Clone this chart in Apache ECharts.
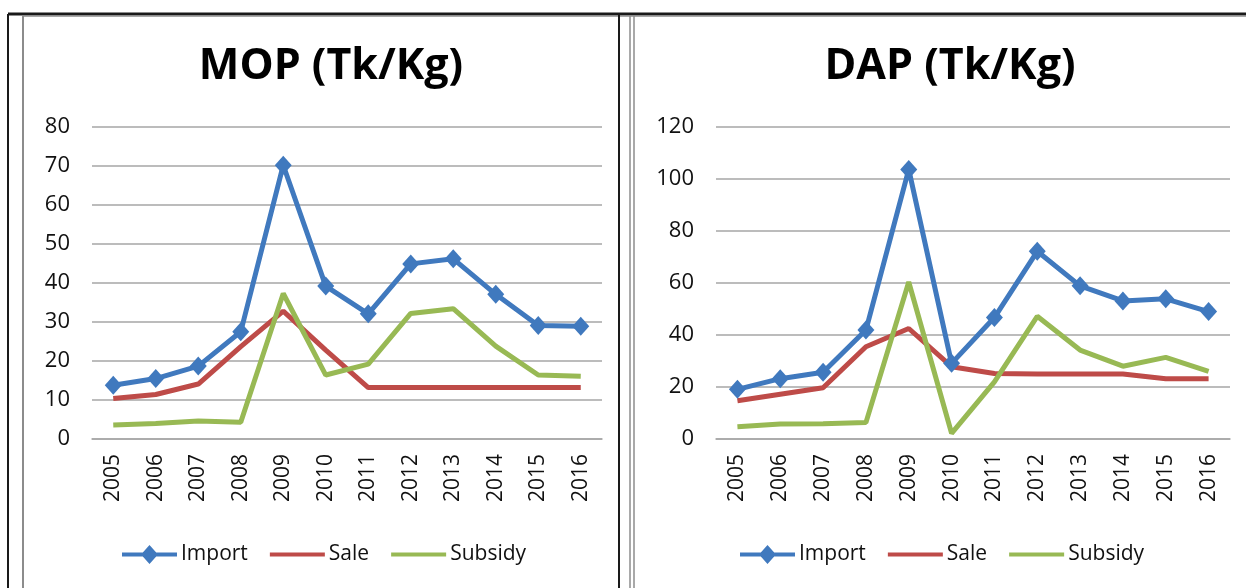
<!DOCTYPE html>
<html>
<head>
<meta charset="utf-8">
<script src="https://cdn.jsdelivr.net/npm/echarts@6/dist/echarts.min.js"></script>
<style>
  html, body { margin: 0; padding: 0; background: #fff; }
  #chart { width: 1246px; height: 588px; }
</style>
</head>
<body>
<div id="chart"></div>
<script>
// years on the category axis
const years = ["2005", "2006", "2007", "2008", "2009", "2010", "2011", "2012", "2013", "2014", "2015", "2016"];

// MOP (Tk/Kg)
const mopImport = [13.8, 15.5, 18.7, 27.5, 70.2, 39.2, 32.1, 44.9, 46.2, 37.1, 29.1, 28.9];
const mopSale = [10.4, 11.4, 14.1, 23.7, 32.8, 22.8, 13.2, 13.2, 13.2, 13.2, 13.2, 13.2];
const mopSubsidy = [3.6, 4.0, 4.6, 4.3, 37.3, 16.4, 19.2, 32.2, 33.4, 23.8, 16.4, 16.1];

// DAP (Tk/Kg)
const dapImport = [19.1, 23.2, 25.7, 41.9, 103.7, 29.1, 46.7, 72.2, 58.9, 53.1, 53.9, 49.0];
const dapSale = [14.7, 17.2, 19.7, 35.5, 42.5, 27.8, 25.2, 25.0, 25.0, 25.0, 23.2, 23.2];
const dapSubsidy = [4.7, 5.8, 5.9, 6.3, 60.4, 2.2, 22.0, 47.2, 34.2, 28.0, 31.4, 26.0];

const titles = ["MOP (Tk/Kg)", "DAP (Tk/Kg)"];

const BLUE = "#4079be";
const RED = "#be4b48";
const GREEN = "#98b954";
const FONT = "Open Sans";

// legend icons: a thick line, with a diamond for Import
// (the zero-length subpaths at the corners keep the bounding box 55x19)
const ICON_LINE = "path://M0,0L0,0M0,7.5H55V11.5H0ZM55,19L55,19";
const ICON_DIAMOND = "path://M0,0L0,0M0,7.5H55V11.5H0ZM27.5,0L36,9.5L27.5,19L19,9.5ZM55,19L55,19";

const chart = echarts.init(document.getElementById("chart"));

function xAxisFor(idx) {
  return {
    type: "category",
    gridIndex: idx,
    data: years,
    boundaryGap: true,
    axisLine: { show: true, lineStyle: { color: "#a6a6a6", width: 1.5 } },
    axisTick: { show: false },
    axisLabel: { rotate: 90, margin: 15, color: "#111", fontSize: 21, fontFamily: FONT }
  };
}

function yAxisFor(idx, max, interval) {
  return {
    type: "value",
    gridIndex: idx,
    min: 0,
    max: max,
    interval: interval,
    axisLine: { show: false },
    axisTick: { show: false },
    axisLabel: { margin: 22, color: "#111", fontSize: 22, fontFamily: FONT },
    splitLine: { lineStyle: { color: "#a6a6a6", width: 1.5 } }
  };
}

function lineSeries(name, data, idx, color, withMarker) {
  return {
    name: name,
    type: "line",
    xAxisIndex: idx,
    yAxisIndex: idx,
    data: data,
    symbol: withMarker ? "diamond" : "none",
    symbolSize: [17, 19],
    itemStyle: { color: color },
    lineStyle: { color: color, width: 5 },
    z: withMarker ? 4 : 3,
    animation: false
  };
}

function legendFor(left) {
  return {
    left: left,
    top: 539,
    itemWidth: 55,
    itemHeight: 19,
    itemGap: 22,
    data: [
      { name: "Import", icon: ICON_DIAMOND, itemStyle: { color: BLUE } },
      { name: "Sale", icon: ICON_LINE, itemStyle: { color: RED } },
      { name: "Subsidy", icon: ICON_LINE, itemStyle: { color: GREEN } }
    ],
    textStyle: { color: "#111", fontSize: 21, fontFamily: FONT, padding: [0, 0, 0, -1] }
  };
}

// frame lines around the two panels
const frame = [
  [[8, 14], [1246, 14], "#1a1a1a", 3],
  [[23, 16], [1246, 16], "#8c8c8c", 1.5],
  [[8, 14], [8, 588], "#1a1a1a", 2],
  [[23, 16], [23, 588], "#8c8c8c", 2],
  [[619, 14], [619, 588], "#1a1a1a", 2],
  [[630, 16], [630, 588], "#8c8c8c", 1.5],
  [[634, 16], [634, 588], "#8c8c8c", 1.5]
].map(([a, b, c, w]) => ({
  type: "line",
  shape: { x1: a[0], y1: a[1], x2: b[0], y2: b[1] },
  style: { stroke: c, lineWidth: w },
  silent: true
}));

const option = {
  backgroundColor: "#fff",
  animation: false,
  graphic: frame,
  title: [
    { text: titles[0], left: 326, top: 40, textAlign: "center",
      textStyle: { fontSize: 43, fontWeight: "bold", color: "#000", fontFamily: FONT } },
    { text: titles[1], left: 945, top: 40, textAlign: "center",
      textStyle: { fontSize: 43, fontWeight: "bold", color: "#000", fontFamily: FONT } }
  ],
  legend: [legendFor(117), legendFor(735)],
  grid: [
    { left: 92, right: 644, top: 127, bottom: 149 },
    { left: 716, right: 16, top: 127, bottom: 149 }
  ],
  xAxis: [xAxisFor(0), xAxisFor(1)],
  yAxis: [yAxisFor(0, 80, 10), yAxisFor(1, 120, 20)],
  series: [
    lineSeries("Sale", mopSale, 0, RED, false),
    lineSeries("Subsidy", mopSubsidy, 0, GREEN, false),
    lineSeries("Import", mopImport, 0, BLUE, true),
    lineSeries("Sale", dapSale, 1, RED, false),
    lineSeries("Subsidy", dapSubsidy, 1, GREEN, false),
    lineSeries("Import", dapImport, 1, BLUE, true)
  ]
};

chart.setOption(option);
</script>
</body>
</html>
